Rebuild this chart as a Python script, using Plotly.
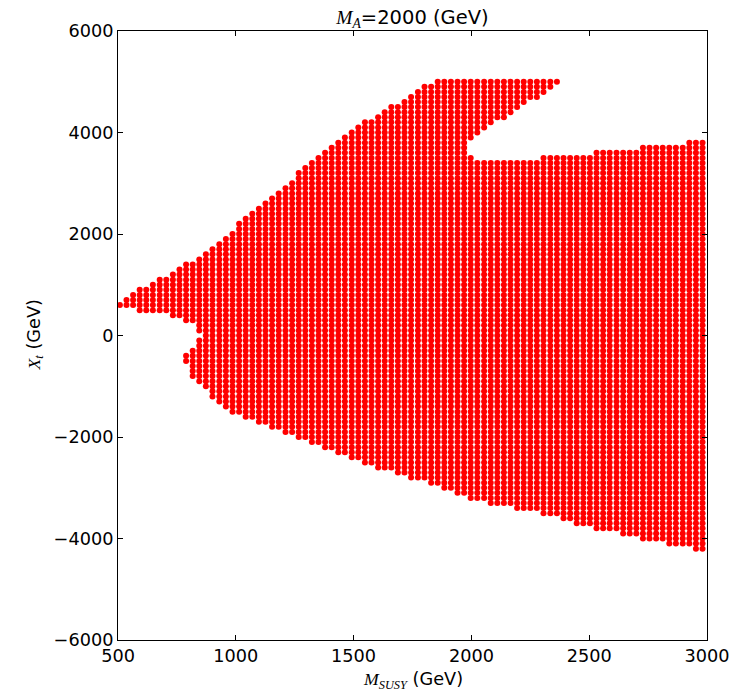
import plotly.graph_objects as go

# Column positions of the scan grid (M_SUSY, GeV)
MSUSY_COLS = [508, 536, 564, 592, 620, 648, 677, 705, 733, 761,
              789, 817, 845, 873, 901, 930, 958, 986, 1014, 1042,
              1070, 1098, 1126, 1154, 1182, 1211, 1239, 1267, 1295, 1323,
              1351, 1379, 1407, 1435, 1463, 1492, 1520, 1548, 1576, 1604,
              1632, 1660, 1688, 1716, 1744, 1773, 1801, 1829, 1857, 1885,
              1913, 1941, 1969, 1997, 2025, 2054, 2082, 2110, 2138, 2166,
              2194, 2222, 2250, 2278, 2306, 2335, 2363, 2391, 2419, 2447,
              2475, 2503, 2531, 2559, 2587, 2616, 2644, 2672, 2700, 2728,
              2756, 2784, 2812, 2840, 2868, 2897, 2925, 2953, 2981]

# Highest allowed X_t in each column (GeV)
XT_UPPER = [600, 700, 800, 900, 900, 1000, 1100, 1100, 1200, 1300,
            1400, 1400, 1500, 1600, 1700, 1800, 1900, 2000, 2200, 2300,
            2400, 2500, 2600, 2700, 2800, 2900, 3000, 3200, 3300, 3400,
            3500, 3600, 3700, 3800, 3900, 4000, 4100, 4200, 4200, 4300,
            4400, 4500, 4500, 4600, 4700, 4800, 4900, 4900, 5000, 5000,
            5000, 5000, 5000, 5000, 5000, 5000, 5000, 5000, 5000, 5000,
            5000, 5000, 5000, 5000, 5000, 5000, 5000, 3500, 3500, 3500,
            3500, 3500, 3600, 3600, 3600, 3600, 3600, 3600, 3600, 3700,
            3700, 3700, 3700, 3700, 3700, 3700, 3800, 3800, 3800]

# Lowest allowed X_t in each column (GeV)
XT_LOWER = [600, 600, 600, 500, 500, 500, 500, 500, 400, 400,
            -500, -800, -900, -1000, -1200, -1300, -1400, -1500, -1500, -1600,
            -1600, -1700, -1700, -1800, -1800, -1900, -1900, -2000, -2000, -2100,
            -2100, -2200, -2200, -2300, -2300, -2400, -2400, -2500, -2500, -2600,
            -2600, -2600, -2700, -2700, -2800, -2800, -2800, -2900, -2900, -3000,
            -3000, -3100, -3100, -3200, -3200, -3200, -3300, -3300, -3300, -3300,
            -3400, -3400, -3400, -3400, -3500, -3500, -3500, -3600, -3600, -3700,
            -3700, -3700, -3800, -3800, -3800, -3800, -3900, -3900, -3900, -4000,
            -4000, -4000, -4000, -4100, -4100, -4100, -4100, -4200, -4200]

# Columns with an excluded band: lowest point above the band / highest point below it
GAP_COLS = [789, 817, 845,
            1997, 2025, 2054, 2082, 2110, 2138, 2166, 2194, 2222, 2250, 2278, 2306, 2335, 2363]
GAP_ABOVE = [300, 300, 100,
             3900, 4000, 4100, 4200, 4300, 4300, 4400, 4500, 4600, 4700, 4700, 4800, 4900, 5000]
GAP_BELOW = [-400, -300, -100,
             3500, 3400, 3400, 3400, 3400, 3400, 3400, 3400, 3400, 3400, 3400, 3500, 3500, 3500]

XT_STEP = 100

gaps = dict(zip(GAP_COLS, zip(GAP_ABOVE, GAP_BELOW)))
xs, ys = [], []
for m, lo, hi in zip(MSUSY_COLS, XT_LOWER, XT_UPPER):
    v = lo
    while v <= hi:
        keep = True
        if m in gaps:
            above, below = gaps[m]
            if below < v < above:
                keep = False
        if keep:
            xs.append(m)
            ys.append(v)
        v += XT_STEP

fig = go.Figure()
fig.add_trace(go.Scatter(
    x=xs, y=ys, mode="markers",
    marker=dict(color="#ff0000", size=6, line=dict(width=0)),
    showlegend=False, hoverinfo="skip"))

serif = "Liberation Serif"
tickfont = dict(family="DejaVu Sans", size=17.7, color="black")

fig.update_layout(
    width=752, height=692,
    margin=dict(l=118, r=45, t=31, b=52),
    paper_bgcolor="white", plot_bgcolor="white",
    title=dict(
        text=f'<span style="font-family:{serif}"><i>M</i><sub><i>A</i></sub></span>=2000 (GeV)',
        x=0.5485, xanchor="center", y=0.975, yanchor="middle", yref="container",
        font=dict(family="DejaVu Sans", size=19.5, color="black")),
    xaxis=dict(range=[500, 3000], tickvals=[500, 1000, 1500, 2000, 2500, 3000],
               showline=True, linecolor="black", linewidth=1, mirror="allticks",
               ticks="inside", ticklen=5, tickcolor="black", showgrid=False,
               zeroline=False, tickfont=tickfont),
    yaxis=dict(range=[-6000, 6000],
               tickvals=[-6000, -4000, -2000, 0, 2000, 4000, 6000],
               showline=True, linecolor="black", linewidth=1, mirror="allticks",
               ticks="inside", ticklen=5, tickcolor="black", showgrid=False,
               zeroline=False, tickfont=tickfont),
    annotations=[
        dict(text=f'<span style="font-family:{serif}"><i>M</i><sub><i>SUSY</i></sub></span> (GeV)',
             xref="paper", yref="paper", x=0.5, y=(640 - 680) / 609,
             xanchor="center", yanchor="middle", showarrow=False,
             font=dict(family="DejaVu Sans", size=17.7, color="black")),
        dict(text=f'<span style="font-family:{serif}"><i>X</i><sub><i>t</i></sub></span> (GeV)',
             xref="paper", yref="paper", x=(35 - 118) / 589, y=0.5,
             xanchor="center", yanchor="middle", showarrow=False, textangle=-90,
             font=dict(family="DejaVu Sans", size=17.7, color="black")),
    ],
)

fig.write_html("out.html")
